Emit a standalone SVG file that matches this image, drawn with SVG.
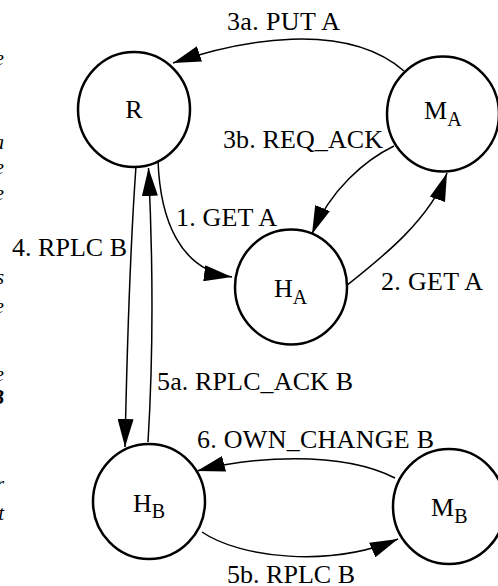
<svg xmlns="http://www.w3.org/2000/svg" width="498" height="586" viewBox="0 0 498 586">
  <style>
    .node { fill: #ffffff; stroke: #000000; stroke-width: 2.5; }
    .edge { fill: none; stroke: #000000; stroke-width: 1.5; marker-end: url(#arrow); }
    .lbl { font-family: "Liberation Serif", "Times New Roman", serif; font-size: 26px; fill: #000000; }
    .sub { font-size: 20px; }
    .frag { font-family: "Liberation Serif", "Times New Roman", serif; font-size: 20px; font-style: italic; fill: #000000; text-anchor: end; }
  </style>
  <defs>
    <marker id="arrow" markerUnits="userSpaceOnUse" markerWidth="28" markerHeight="16" refX="28" refY="8" orient="auto">
      <path d="M0,0 L28,8 L0,16 Z" fill="#000000"/>
    </marker>
  </defs>

  <!-- clipped tails of the neighbouring text column -->
  <g id="margin-text">
    <text class="frag" x="4" y="65">e</text>
    <text class="frag" x="4" y="149">a</text>
    <text class="frag" x="4" y="174">e</text>
    <text class="frag" x="4" y="200">e</text>
    <text class="frag" x="4" y="284">s</text>
    <text class="frag" x="4" y="313">e</text>
    <text class="frag" x="4" y="381">e</text>
    <text class="frag" x="4" y="404" font-weight="bold">B</text>
    <text class="frag" x="4" y="491">r</text>
    <text class="frag" x="4" y="520">t</text>
  </g>

  <!-- connectors -->
  <g id="edges">
    <path class="edge" d="M404,71 C345,20 240,40 173,63"/>
    <path class="edge" d="M394,146 C365,160 330,190 312,234"/>
    <path class="edge" d="M158,160 C160,220 180,270 232,277"/>
    <path class="edge" d="M346,286 C380,259 430,220 447,173"/>
    <path class="edge" d="M136,166 C130,250 127,350 125,447"/>
    <path class="edge" d="M148,442 C153,360 153,260 148.5,168"/>
    <path class="edge" d="M395,478 C340,450 250,457 197,471"/>
    <path class="edge" d="M202,532 C240,558 330,568 398,539"/>
  </g>

  <!-- connector labels -->
  <g id="edge-labels">
    <text class="lbl" x="227" y="30" textLength="113" lengthAdjust="spacing">3a. PUT A</text>
    <text class="lbl" x="223" y="148" textLength="160" lengthAdjust="spacing">3b. REQ_ACK</text>
    <text class="lbl" x="176" y="226" textLength="101" lengthAdjust="spacing">1. GET A</text>
    <text class="lbl" x="381" y="290" textLength="102" lengthAdjust="spacing">2. GET A</text>
    <text class="lbl" x="12" y="256" textLength="115" lengthAdjust="spacing">4. RPLC B</text>
    <text class="lbl" x="157" y="390" textLength="196" lengthAdjust="spacing">5a. RPLC_ACK B</text>
    <text class="lbl" x="197" y="448" textLength="237" lengthAdjust="spacing">6. OWN_CHANGE B</text>
    <text class="lbl" x="227" y="583" textLength="128" lengthAdjust="spacing">5b. RPLC B</text>
  </g>

  <g id="R">
    <ellipse class="node" cx="134" cy="109.5" rx="56" ry="57.5"/>
    <text class="lbl" x="134" y="118" text-anchor="middle">R</text>
  </g>
  <g id="MA">
    <ellipse class="node" cx="443" cy="114" rx="56" ry="57.5"/>
    <text class="lbl" x="424" y="119">M<tspan class="sub" dy="7">A</tspan></text>
  </g>
  <g id="HA">
    <ellipse class="node" cx="291" cy="287" rx="56" ry="57.5"/>
    <text class="lbl" x="274" y="297">H<tspan class="sub" dy="6.5">A</tspan></text>
  </g>
  <g id="HB">
    <ellipse class="node" cx="149" cy="501.5" rx="56" ry="57.5"/>
    <text class="lbl" x="133" y="512">H<tspan class="sub" dy="5.5">B</tspan></text>
  </g>
  <g id="MB">
    <ellipse class="node" cx="449" cy="506.5" rx="56" ry="57.5"/>
    <text class="lbl" x="431" y="516">M<tspan class="sub" dy="7">B</tspan></text>
  </g>
</svg>
